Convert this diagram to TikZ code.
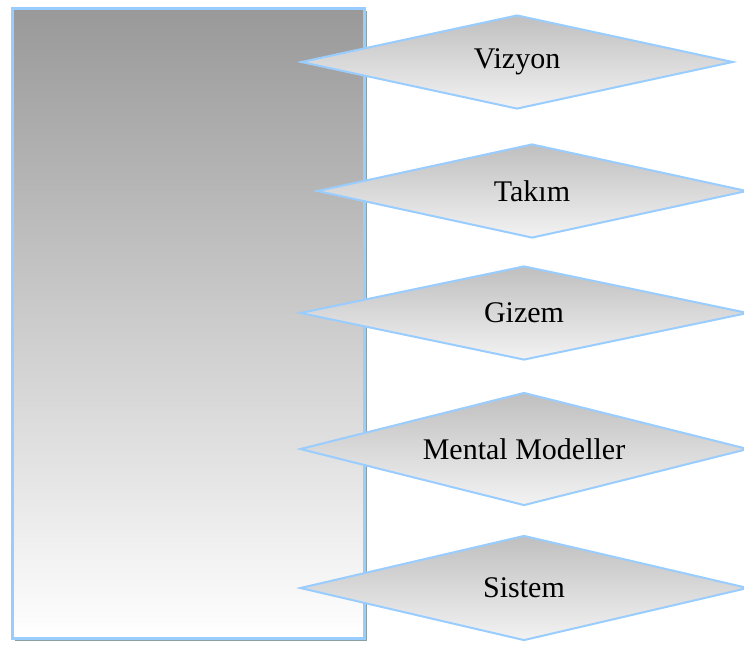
\documentclass[tikz,border=0pt]{standalone}
\usepackage{fontspec}
\setmainfont{Liberation Serif}
\usetikzlibrary{shapes.geometric}
\definecolor{lineblue}{RGB}{153,204,255}
\definecolor{shadowgray}{RGB}{140,160,160}

\begin{document}
\begin{tikzpicture}[x=0.5pt,y=-0.5pt,
  item/.style={diamond, draw=lineblue, line width=1pt, aspect=4.7,
    minimum width=448pt, minimum height=47pt, inner sep=1pt,
    top color=gray!50, bottom color=gray!10,
    font=\fontsize{15pt}{18pt}\selectfont}]
  \useasboundingbox (0,0) rectangle (744,644);
  \coordinate (A) at (12,8);
  \coordinate (B) at (364,638);
  \fill[shadowgray] ([shift={(3,3)}]A) rectangle ([shift={(3,3)}]B);
  \draw[lineblue, line width=1.5pt, top color=gray!80, bottom color=white] (A) rectangle (B);

  \node[item, minimum width=216pt] (D1) at (517,62) {Vizyon};
  \node[item, minimum width=215pt] (D2) at (532,191) {Takım};
  \node[item, minimum width=224pt] (D3) at (524,313) {Gizem};
  \node[item, minimum width=224pt, minimum height=56.5pt] (D4) at (524,449) {Mental Modeller};
  \node[item, minimum width=224pt, minimum height=52.5pt] (D5) at (524,588) {Sistem};
\end{tikzpicture}
\end{document}
